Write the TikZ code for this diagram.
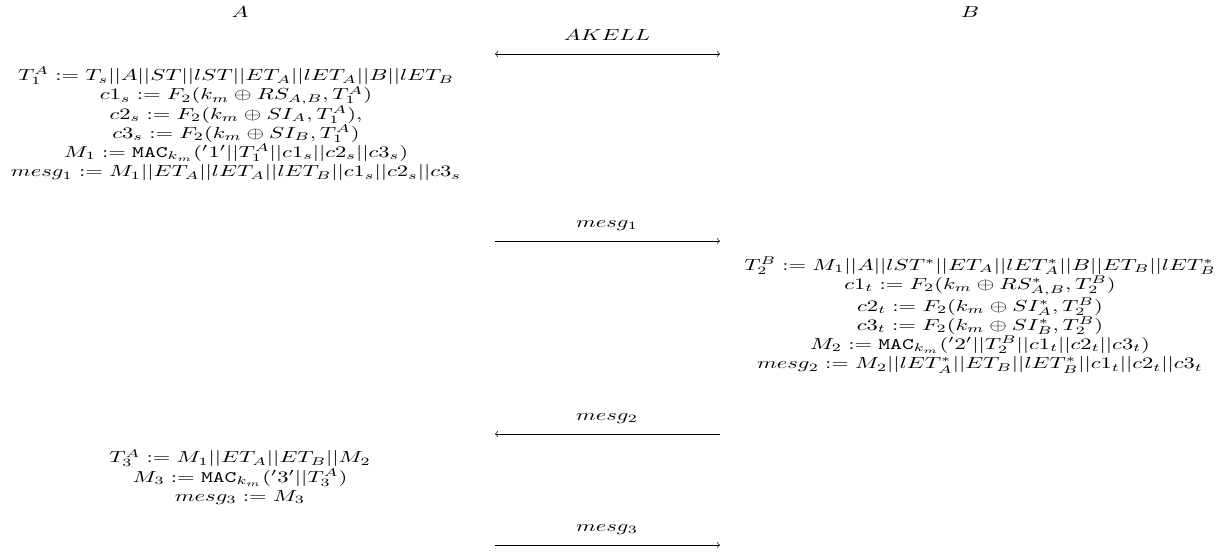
\documentclass[tikz,border=0pt]{standalone}
\begin{document}
\begin{tikzpicture}[x=0.625pt,y=-0.625pt,
  wide/.style={xscale=1.41,inner sep=0pt},
  calc/.style={wide,align=center},
  msg/.style={->},
  lbl/.style={wide,anchor=base,yshift=8.7pt}]
\useasboundingbox (0,0) rectangle (1230,554);

% participants
\begin{scope}[shift={(240,12)}]
  \node[wide] (A) at (0,0) {$A$};
\end{scope}
\begin{scope}[shift={(970,12)}]
  \node[wide] (B) at (0,0) {$B$};
\end{scope}

% key establishment
\coordinate (akL) at (495,54);
\coordinate (akR) at (720,54);
\coordinate (akM) at (607,54);
\draw[<->] (akL) -- (akR);
\begin{scope}[shift={(akM)}]
  \node[lbl] (akell) at (0,0) {$AKELL$};
\end{scope}

% A computes the first message
\begin{scope}[shift={(236,124)}]
\node[calc] (stepA1) at (0,0) {%
  $T_1^A := T_s||A||ST||lST||ET_A||lET_A||B||lET_B$\\
  $c1_s := F_2(k_m \oplus RS_{A,B}, T_1^A)$\\
  $c2_s := F_2(k_m \oplus SI_A, T_1^A),$\\
  $c3_s := F_2(k_m \oplus SI_B, T_1^A)$\\
  $M_1 := \mathtt{MAC}_{k_m}('1'||T_1^A||c1_s||c2_s||c3_s)$\\
  $mesg_1 := M_1||ET_A||lET_A||lET_B||c1_s||c2_s||c3_s$};
\end{scope}

\coordinate (m1L) at (495,241);
\coordinate (m1R) at (720,241);
\coordinate (m1M) at (607,241);
\draw[msg] (m1L) -- (m1R);
\begin{scope}[shift={(m1M)}]
  \node[lbl] (mesgA) at (0,0) {$mesg_1$};
\end{scope}

% B answers
\begin{scope}[shift={(980,315)}]
\node[calc] (stepB2) at (0,0) {%
  $T_2^B := M_1||A||lST^*||ET_A||lET^*_A||B||ET_B||lET^*_B$\\
  $c1_t := F_2(k_m \oplus RS^*_{A,B}, T_2^B)$\\
  $c2_t := F_2(k_m \oplus SI^*_A, T_2^B)$\\
  $c3_t := F_2(k_m \oplus SI^*_B, T_2^B)$\\
  $M_2 := \mathtt{MAC}_{k_m}('2'||T_2^B||c1_t||c2_t||c3_t)$\\
  $mesg_2 := M_2||lET^*_A||ET_B||lET^*_B||c1_t||c2_t||c3_t$};
\end{scope}

\coordinate (m2L) at (495,434);
\coordinate (m2R) at (720,434);
\coordinate (m2M) at (607,434);
\draw[msg] (m2R) -- (m2L);
\begin{scope}[shift={(m2M)}]
  \node[lbl] (mesgB) at (0,0) {$mesg_2$};
\end{scope}

% A confirms
\begin{scope}[shift={(240,477)}]
\node[calc] (stepA3) at (0,0) {%
  $T_3^A := M_1||ET_A||ET_B||M_2$\\
  $M_3 := \mathtt{MAC}_{k_m}('3'||T_3^A)$\\
  $mesg_3 := M_3$};
\end{scope}

\coordinate (m3L) at (495,545);
\coordinate (m3R) at (720,545);
\coordinate (m3M) at (607,545);
\draw[msg] (m3L) -- (m3R);
\begin{scope}[shift={(m3M)}]
  \node[lbl] (mesgC) at (0,0) {$mesg_3$};
\end{scope}
\end{tikzpicture}
\end{document}
